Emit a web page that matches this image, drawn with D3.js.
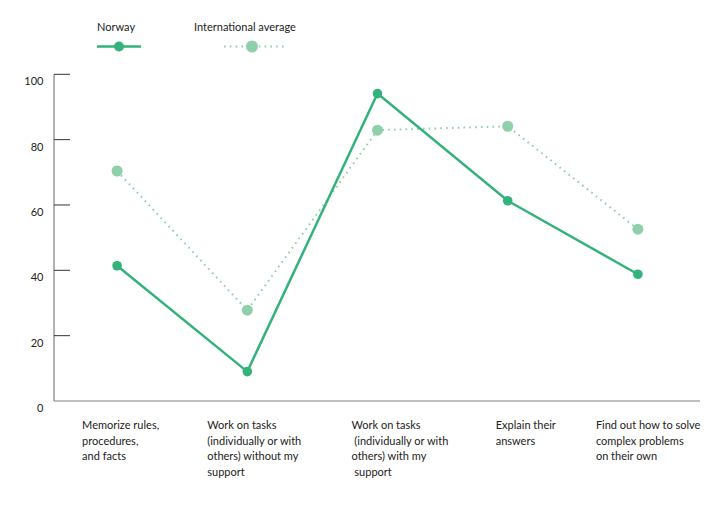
<!DOCTYPE html>
<html>
<head>
<meta charset="utf-8">
<script src="https://cdn.jsdelivr.net/npm/d3@7"></script>
<style>
  body { margin: 0; background: #fff; }
  svg { display: block; font-family: Lato, "Open Sans", sans-serif; }
  .cat-label { white-space: pre; }
</style>
</head>
<body>
<div id="chart"></div>
<script>
const WIDTH = 719;
const HEIGHT = 531;

const categories = [
  "Memorize rules, procedures, and facts",
  "Work on tasks (individually or with others) without my support",
  "Work on tasks (individually or with others) with my support",
  "Explain their answers",
  "Find out how to solve complex problems on their own"
];
const categoryLines = [
  ["Memorize rules,", "procedures,", "and facts"],
  ["Work on tasks", "(individually or with", "others) without my", "support"],
  ["Work on tasks", " (individually or with", "others) with my", " support"],
  ["Explain their", "answers"],
  ["Find out how to solve", "complex problems", "on their own"]
];
const norwayValues = [41.4, 9.0, 94.1, 61.3, 38.8];
const internationalValues = [70.4, 27.8, 82.9, 84.1, 52.6];
const yTicks = [0, 20, 40, 60, 80, 100];

const NORWAY_COLOR = "#34b27b";
const INTL_COLOR = "#8fcfa9";

// label offsets from each category point (layout only)
const labelOffsets = [-35, -40, -26, -12, -42];

const axisX = 54;
const axisRight = 700;

const svg = d3.select("#chart")
  .append("svg")
  .attr("width", WIDTH)
  .attr("height", HEIGHT);

const x = d3.scalePoint()
  .domain(categories)
  .range([52, 703])
  .padding(0.5);

const y = d3.scaleLinear()
  .domain([0, 100])
  .range([401, 74.3]);

// y axis
const yAxis = svg.append("g").attr("class", "y-axis");

yAxis.append("line")
  .attr("x1", axisX)
  .attr("x2", axisX)
  .attr("y1", y(100))
  .attr("y2", y(0))
  .attr("stroke", "#808080")
  .attr("stroke-width", 1.2);

yAxis.selectAll(".tick-line")
  .data(yTicks.filter((d) => d > 0))
  .join("line")
  .attr("class", "tick-line")
  .attr("x1", axisX)
  .attr("x2", axisX + 16)
  .attr("y1", (d) => y(d))
  .attr("y2", (d) => y(d))
  .attr("stroke", "#333")
  .attr("stroke-width", 1);

yAxis.selectAll(".tick-label")
  .data(yTicks)
  .join("text")
  .attr("class", "tick-label")
  .attr("x", axisX - 10.5)
  .attr("y", (d) => y(d) + 11)
  .attr("text-anchor", "end")
  .attr("font-size", 11)
  .attr("fill", "#222")
  .text((d) => d);

// baseline
svg.append("line")
  .attr("x1", axisX)
  .attr("x2", axisRight)
  .attr("y1", y(0))
  .attr("y2", y(0))
  .attr("stroke", "#808080")
  .attr("stroke-width", 1.2);

// category labels
const labels = svg.append("g").attr("class", "x-labels");
categories.forEach((cat, i) => {
  const text = labels.append("text")
    .attr("class", "cat-label")
    .attr("x", x(cat) + labelOffsets[i])
    .attr("y", 429)
    .attr("font-size", 11)
    .attr("fill", "#222")
    .attr("xml:space", "preserve");
  categoryLines[i].forEach((line, j) => {
    text.append("tspan")
      .attr("x", x(cat) + labelOffsets[i])
      .attr("dy", j === 0 ? 0 : 15.6)
      .text(line);
  });
});

const lineGen = d3.line()
  .x((d, i) => x(categories[i]))
  .y((d) => y(d));

// international average (dotted)
svg.append("path")
  .datum(internationalValues)
  .attr("fill", "none")
  .attr("stroke", INTL_COLOR)
  .attr("stroke-width", 2)
  .attr("stroke-dasharray", "1.6 4.2")
  .attr("d", lineGen);

svg.append("g")
  .selectAll("circle")
  .data(internationalValues)
  .join("circle")
  .attr("cx", (d, i) => x(categories[i]))
  .attr("cy", (d) => y(d))
  .attr("r", 5.5)
  .attr("fill", INTL_COLOR);

// Norway
svg.append("path")
  .datum(norwayValues)
  .attr("fill", "none")
  .attr("stroke", NORWAY_COLOR)
  .attr("stroke-width", 2.5)
  .attr("d", lineGen);

svg.append("g")
  .selectAll("circle")
  .data(norwayValues)
  .join("circle")
  .attr("cx", (d, i) => x(categories[i]))
  .attr("cy", (d) => y(d))
  .attr("r", 4.8)
  .attr("fill", NORWAY_COLOR);

// legend
const legend = svg.append("g").attr("class", "legend");

legend.append("text")
  .attr("x", 97)
  .attr("y", 31)
  .attr("font-size", 11)
  .attr("fill", "#222")
  .text("Norway");

legend.append("line")
  .attr("x1", 97)
  .attr("x2", 141)
  .attr("y1", 46.5)
  .attr("y2", 46.5)
  .attr("stroke", NORWAY_COLOR)
  .attr("stroke-width", 2.5);

legend.append("circle")
  .attr("cx", 119)
  .attr("cy", 46.5)
  .attr("r", 5)
  .attr("fill", NORWAY_COLOR);

legend.append("text")
  .attr("x", 194)
  .attr("y", 31)
  .attr("font-size", 11)
  .attr("fill", "#222")
  .text("International average");

legend.append("line")
  .attr("x1", 224)
  .attr("x2", 286)
  .attr("y1", 46.5)
  .attr("y2", 46.5)
  .attr("stroke", INTL_COLOR)
  .attr("stroke-width", 2)
  .attr("stroke-dasharray", "1.6 4.2");

legend.append("circle")
  .attr("cx", 252)
  .attr("cy", 46.5)
  .attr("r", 6)
  .attr("fill", INTL_COLOR);
</script>
</body>
</html>
